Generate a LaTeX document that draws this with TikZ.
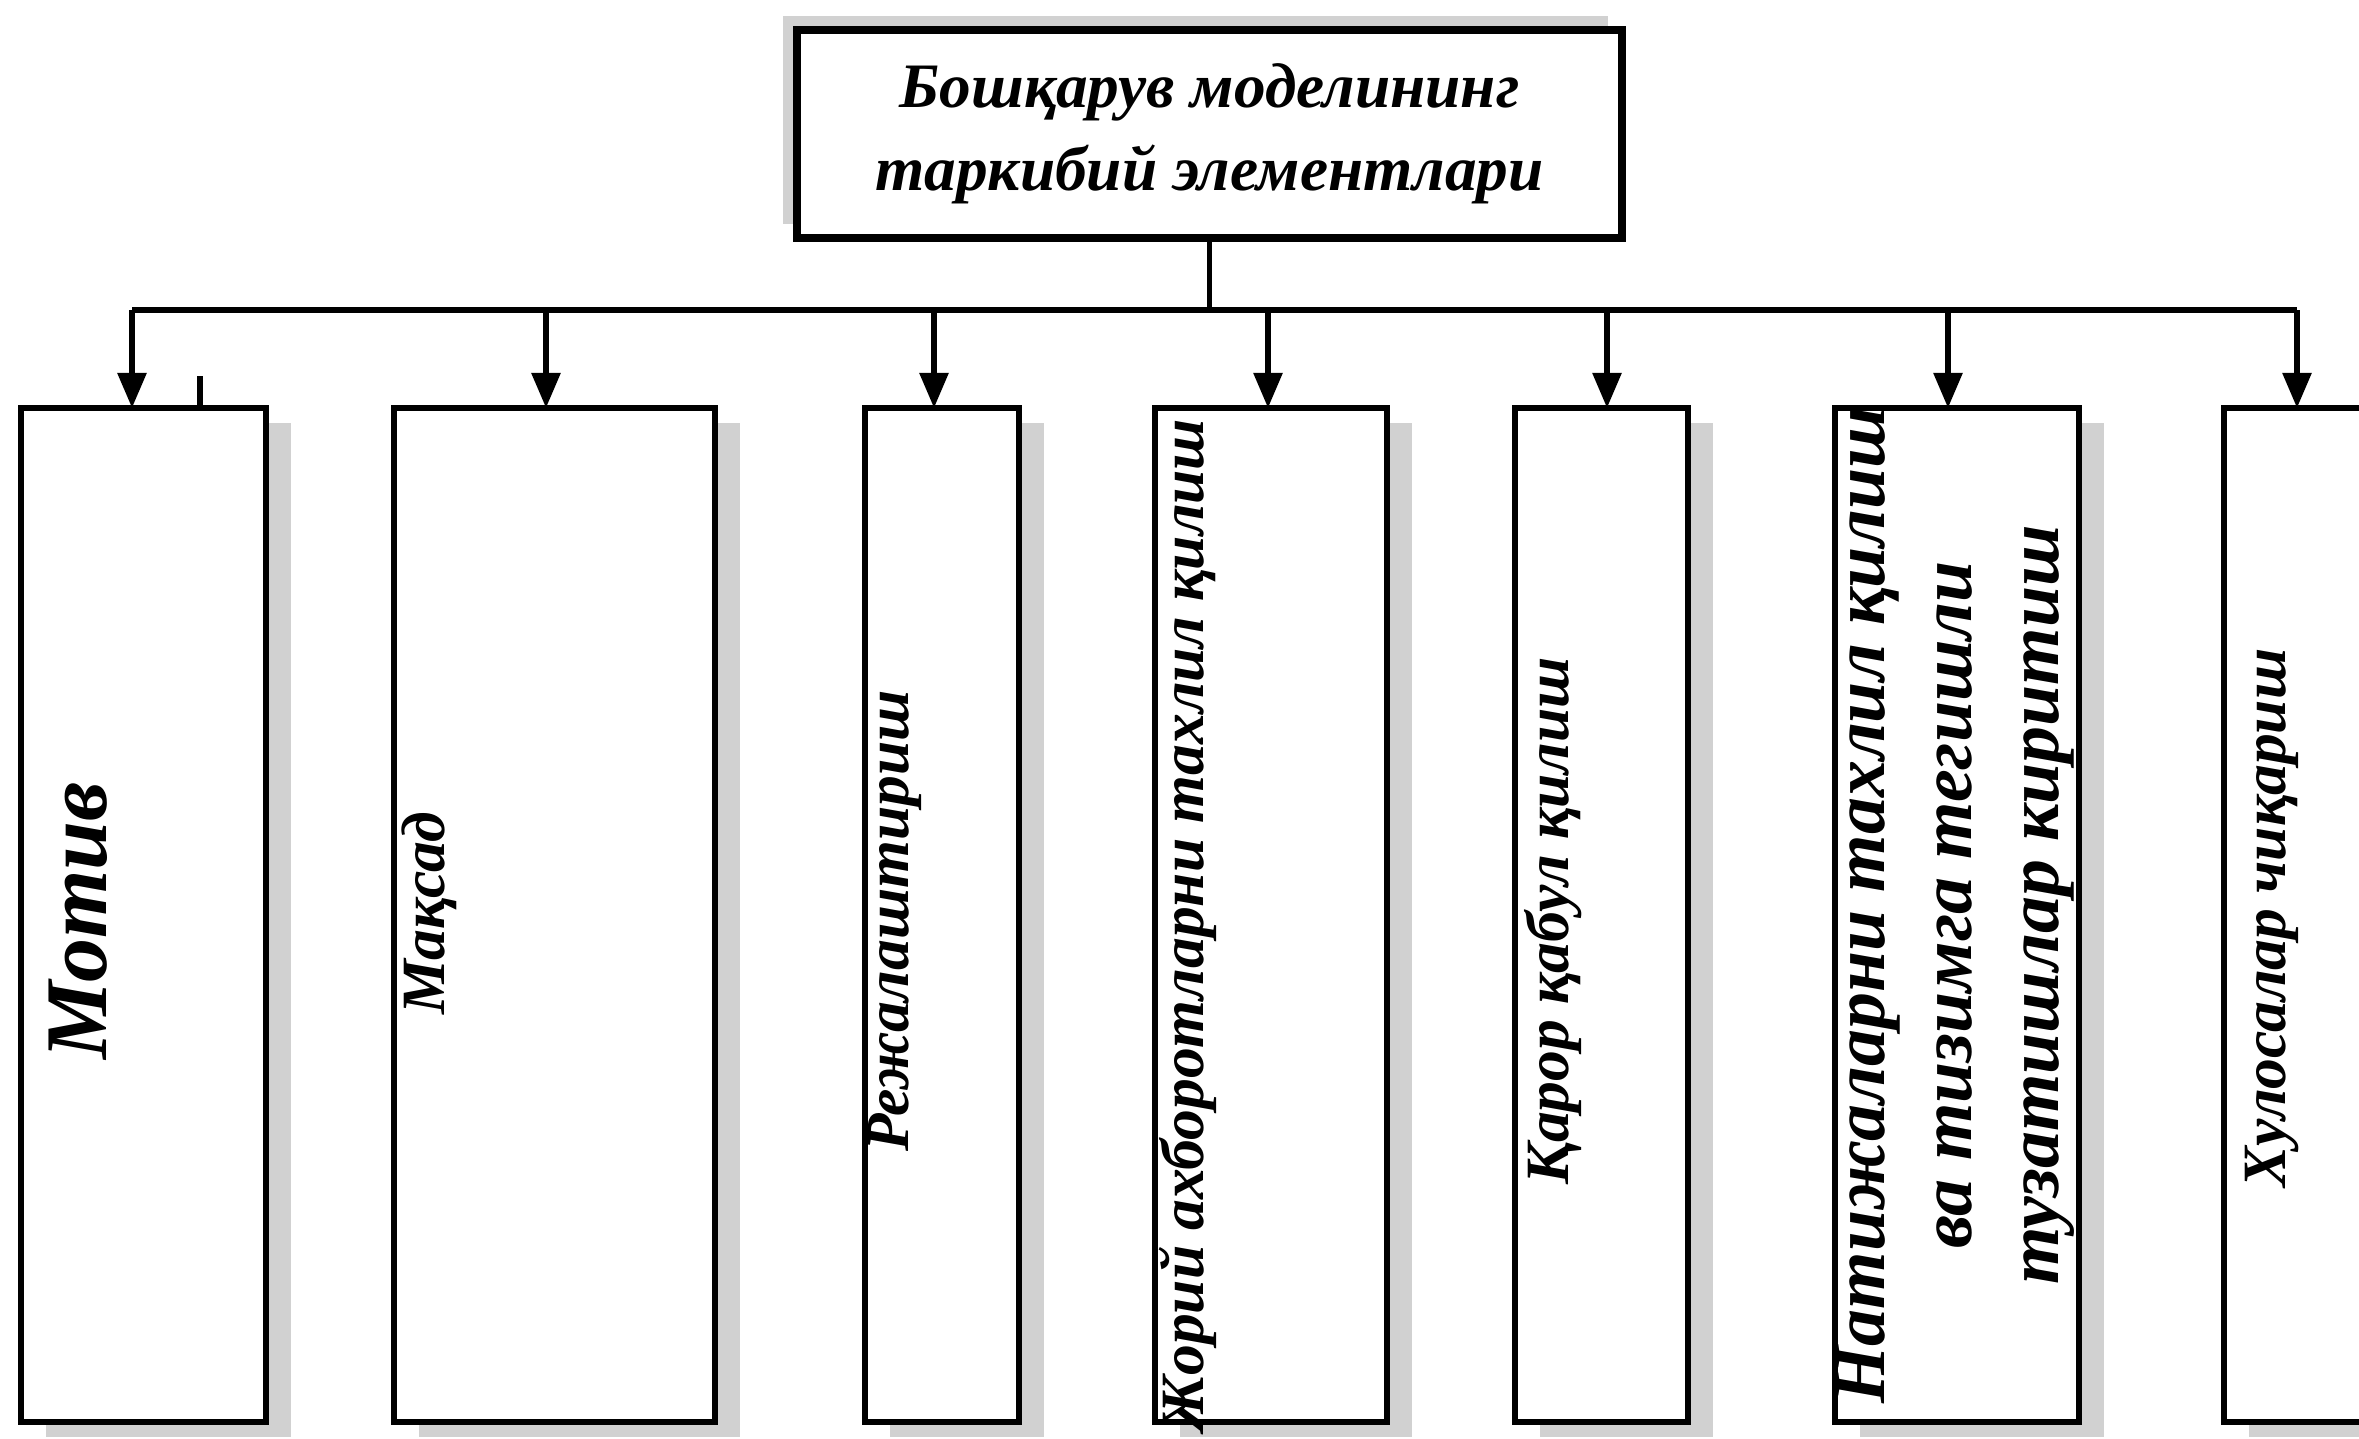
\documentclass[tikz,border=0pt]{standalone}
\usepackage{fontspec}
\setmainfont{Liberation Serif}
\usetikzlibrary{arrows.meta,shadows}

\begin{document}
\begin{tikzpicture}[x=0.01cm, y=-0.01cm,
    box/.style={draw, line width=1.6pt, fill=white, inner sep=0pt, minimum height=10.14cm,
        drop shadow={shadow xshift=0.25cm, shadow yshift=-0.15cm, fill=black!18, opacity=1}},
    headbox/.style={draw, line width=2.2pt, fill=white, inner sep=0pt,
        minimum width=8.25cm, minimum height=2.08cm, align=center,
        drop shadow={shadow xshift=-0.14cm, shadow yshift=0.14cm, fill=black!18, opacity=1}},
    lbl/.style={rotate=90, inner sep=0pt, align=center, font=\bfseries\itshape\fontsize{17.5}{21}\selectfont},
    line/.style={line width=1.6pt},
    arr/.style={line width=1.6pt, -{Triangle[length=0.35cm, width=0.28cm]}}]
    \useasboundingbox (0,0) rectangle (2359,1439);

    \node[headbox, font=\bfseries\itshape\fontsize{18}{23.6}\selectfont] (top) at (1209.5,134)
        {Бошқарув моделининг\\таркибий элементлари};

    \node[box, minimum width=2.45cm] (b1) at (143.5,915) {};
    \node[box, minimum width=3.21cm] (b2) at (554.5,915) {};
    \node[box, minimum width=1.54cm] (b3) at (942,915) {};
    \node[box, minimum width=2.32cm] (b4) at (1271,915) {};
    \node[box, minimum width=1.73cm] (b5) at (1601.5,915) {};
    \node[box, minimum width=2.44cm] (b6) at (1957,915) {};
    \node[box, minimum width=1.56cm] (b7) at (2302,915) {};

    \node[lbl, font=\bfseries\itshape\fontsize{25}{30}\selectfont] (tmotiv) at (78,921) {Мотив};
    \node[lbl] (tmaqsad) at (429,913) {Мақсад};
    \node[lbl] (treja) at (895,921) {Режалаштириш};
    \node[lbl] (tjoriy) at (1188,925) {Жорий ахборотларни тахлил қилиш};
    \node[lbl] (tqaror) at (1553,921) {Қарор қабул қилиш};
    \node[lbl, font=\bfseries\itshape\fontsize{21}{24.7}\selectfont] (tnatija) at (1955,905)
        {Натижаларни тахлил қилиш\\ва тизимга тегишли\\тузатишлар киритиш};
    \node[lbl] (txulosa) at (2272,918) {Хулосалар чиқариш};

    \coordinate (bus) at (1209.5,310);
    \coordinate (a1) at (132,408);
    \coordinate (a2) at (546,408);
    \coordinate (a3) at (934,408);
    \coordinate (a4) at (1268,408);
    \coordinate (a5) at (1607,408);
    \coordinate (a6) at (1948,408);
    \coordinate (a7) at (2297,408);
    \coordinate (tick) at (200,376);

    \draw[line] (top) -- (bus);
    \draw[line] (a1 |- bus) -- (a7 |- bus);
    \draw[arr] (a1 |- bus) -- (a1);
    \draw[arr] (a2 |- bus) -- (a2);
    \draw[arr] (a3 |- bus) -- (a3);
    \draw[arr] (a4 |- bus) -- (a4);
    \draw[arr] (a5 |- bus) -- (a5);
    \draw[arr] (a6 |- bus) -- (a6);
    \draw[arr] (a7 |- bus) -- (a7);
    \draw[line] (tick) -- (tick |- b1.north);
\end{tikzpicture}
\end{document}
